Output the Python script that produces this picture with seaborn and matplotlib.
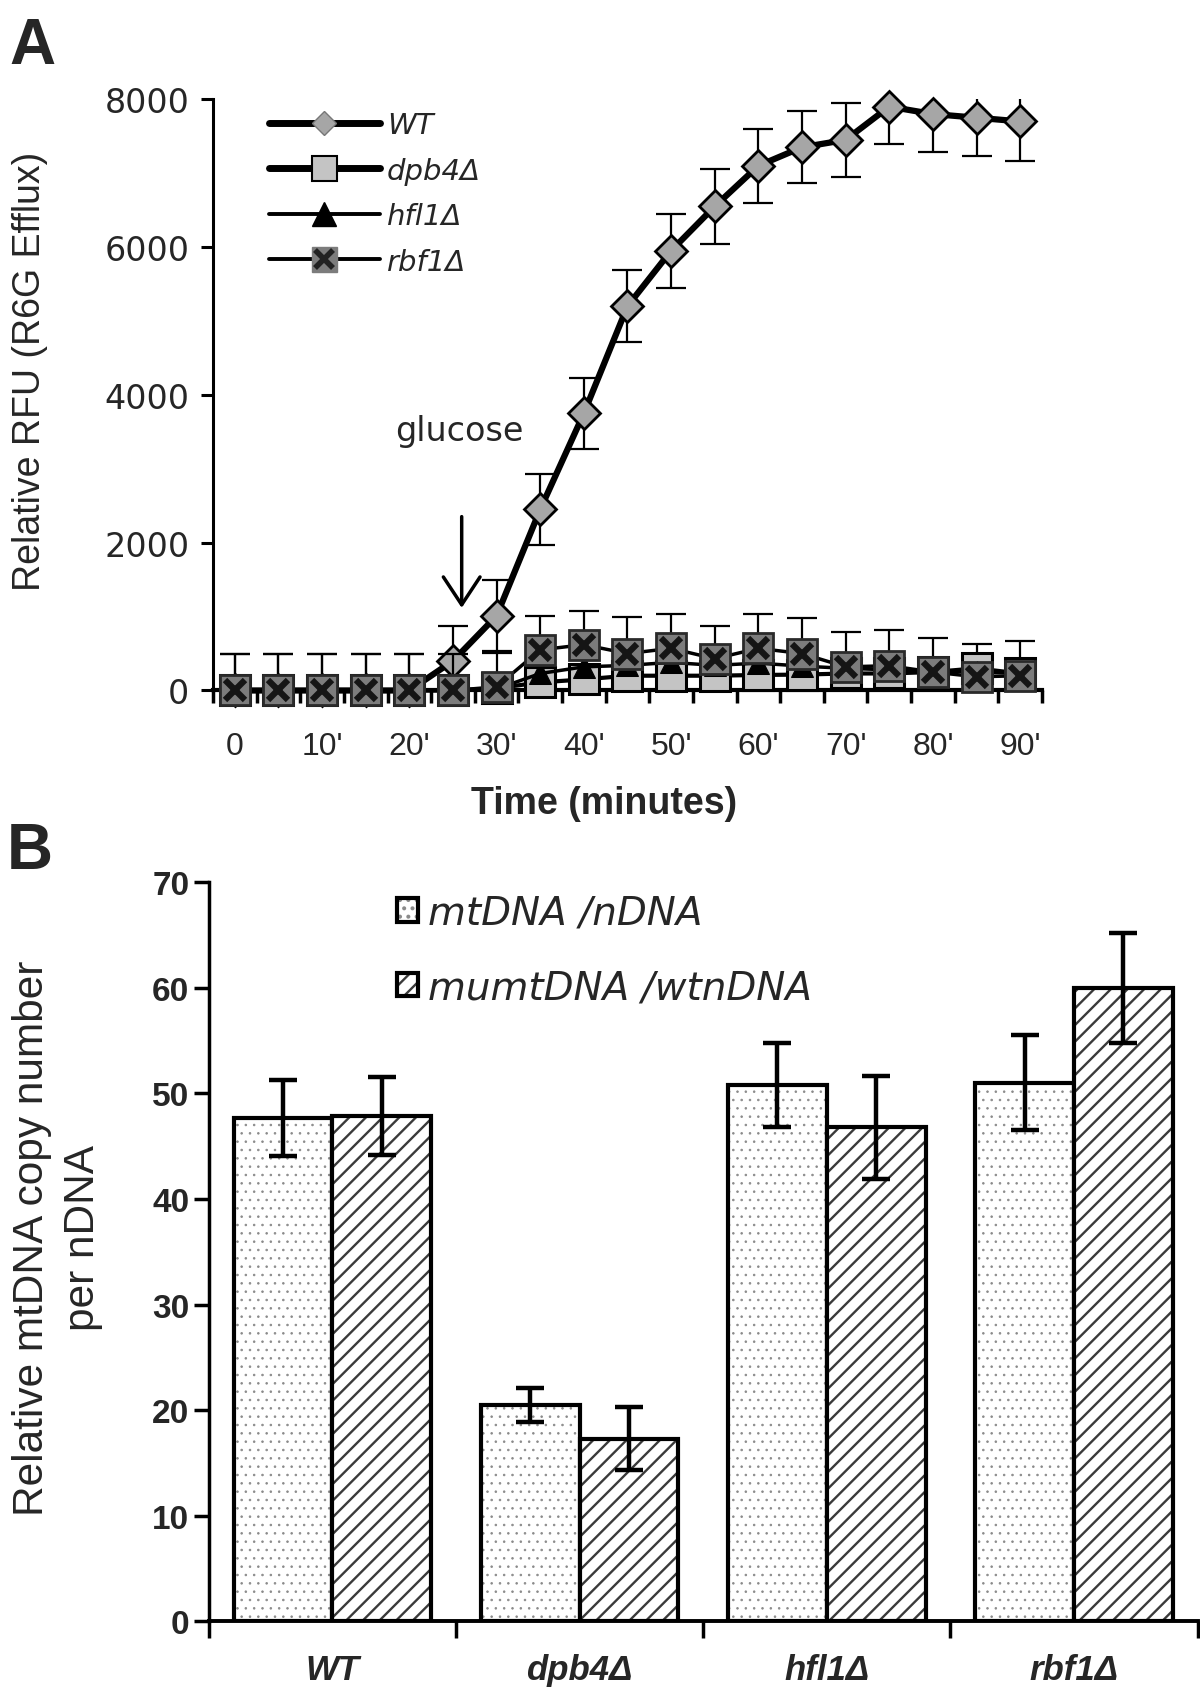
import numpy as np
import pandas as pd
import matplotlib
matplotlib.use("Agg")
import matplotlib.pyplot as plt
import matplotlib.colors as mcolors
from matplotlib.lines import Line2D
import seaborn as sns

# ---------------- data: panel A ----------------
time_min = [0, 5, 10, 15, 20, 25, 30, 35, 40, 45, 50, 55, 60, 65, 70, 75, 80, 85, 90]
time_tick_vals = [0, 10, 20, 30, 40, 50, 60, 70, 80, 90]
time_tick_labels = ["0", "10'", "20'", "30'", "40'", "50'", "60'", "70'", "80'", "90'"]
wt = [0, 0, 0, 0, 0, 400, 1010, 2450, 3750, 5200, 5950, 6550, 7100, 7350, 7450, 7900, 7800, 7750, 7700]
wt_err = [500, 500, 500, 500, 500, 470, 480, 475, 480, 490, 500, 505, 500, 490, 500, 500, 520, 515, 530]
dpb4 = [0, 0, 0, 0, 0, 0, 30, 110, 150, 200, 200, 200, 210, 215, 230, 230, 250, 300, 230]
hfl1 = [0, 0, 0, 0, 0, 0, 20, 230, 320, 340, 380, 340, 370, 330, 300, 280, 260, 250, 230]
rbf1 = [0, 0, 0, 0, 0, 0, 50, 550, 620, 500, 570, 430, 570, 500, 320, 335, 250, 185, 200]
rbf1_err = [500, 500, 500, 500, 500, 500, 460, 455, 460, 500, 460, 440, 460, 475, 475, 485, 460, 450, 470]
series_names = ["WT", "dpb4Δ", "hfl1Δ", "rbf1Δ"]
arrow_x = 26.0
arrow_from = 2390
arrow_to = 1080
glucose_xy = (25.7, 3520)

# ---------------- data: panel B ----------------
strains = ["WT", "dpb4Δ", "hfl1Δ", "rbf1Δ"]
measures = ["mtDNA /nDNA", "mumtDNA /wtnDNA"]
mt_ndna = [47.7, 20.5, 50.8, 51.0]
mt_ndna_err = [3.6, 1.6, 4.0, 4.5]
mumt_wtn = [47.9, 17.3, 46.8, 60.0]
mumt_wtn_err = [3.7, 3.0, 4.9, 5.2]

# ---------------- style ----------------
sns.set_theme(style="ticks")
plt.rcParams["font.family"] = ["DejaVu Sans"]
plt.rcParams["hatch.linewidth"] = 1.7
ARIAL = ["Liberation Sans", "DejaVu Sans"]

fig = plt.figure(figsize=(12, 16.99), dpi=100)
axA = fig.add_axes([0.1775, 0.593, 0.6908, 0.348])
axB = fig.add_axes([0.174, 0.0453, 0.824, 0.4347])

# ================= Panel A =================
t = np.array(time_min)
series_lines = []

axA.errorbar(t, wt, yerr=wt_err, fmt="none", ecolor="black", elinewidth=1.6,
             capsize=11, capthick=1.6, zorder=3)
sns.lineplot(x=t, y=wt, ax=axA, color="black", linewidth=4.5, marker="D",
             markersize=16, markerfacecolor="#a6a6a6", markeredgecolor="black",
             markeredgewidth=2.0, zorder=4)
series_lines.append(axA.lines[-1])
sns.lineplot(x=t, y=dpb4, ax=axA, color="black", linewidth=3.0, marker="s",
             markersize=22, markerfacecolor="#c4c4c4", markeredgecolor="black",
             markeredgewidth=2.2, zorder=5)
series_lines.append(axA.lines[-1])
sns.lineplot(x=t, y=hfl1, ax=axA, color="black", linewidth=2.5, marker="^",
             markersize=16, markerfacecolor="black", markeredgecolor="black", zorder=5)
series_lines.append(axA.lines[-1])
axA.errorbar(t, rbf1, yerr=rbf1_err, fmt="none", ecolor="black", elinewidth=1.6,
             capsize=11, capthick=1.6, zorder=4)
sns.lineplot(x=t, y=rbf1, ax=axA, color="black", linewidth=2.5, marker="s",
             markersize=22, markerfacecolor="#7c7c7c", markeredgecolor="#2a2a2a",
             markeredgewidth=2.0, zorder=6)
series_lines.append(axA.lines[-1])
axA.plot(t, rbf1, linestyle="none", marker="x", markersize=15, markeredgewidth=4.5,
         color="#151515", zorder=7)
series_lines.append(axA.lines[-1])
for ln in series_lines:
    ln.set_clip_on(False)

axA.set_xlim(-2.5, 92.5)
axA.set_ylim(0, 8000)
axA.set_yticks([0, 2000, 4000, 6000, 8000])
axA.set_xticks(time_tick_vals)
axA.set_xticklabels(time_tick_labels, fontsize=23, family=ARIAL)
axA.set_xticks(np.arange(-2.5, 93, 5), minor=True)
axA.tick_params(axis="x", which="major", length=0, pad=29)
axA.tick_params(axis="x", which="minor", length=9, width=2.5, direction="out", color="black")
axA.tick_params(axis="y", length=9, width=2.2, pad=8, labelsize=24, color="black")
for lab in axA.get_yticklabels():
    lab.set_family("DejaVu Sans")
sns.despine(ax=axA)
axA.spines["left"].set_linewidth(2.2)
axA.spines["bottom"].set_linewidth(3.0)
axA.spines["left"].set_color("black")
axA.spines["bottom"].set_color("black")

axA.set_ylabel("Relative RFU (R6G Efflux)", fontsize=27, family=ARIAL)
axA.yaxis.label.set_va("center")
axA.yaxis.set_label_coords(-0.221, 0.542)
axA.set_xlabel("Time (minutes)", fontsize=27, fontweight="bold", family=ARIAL)
axA.xaxis.label.set_va("center")
axA.xaxis.set_label_coords(0.4717, -0.19)

axA.annotate("", xy=(arrow_x, arrow_to), xytext=(arrow_x, arrow_from),
             arrowprops=dict(arrowstyle="->,head_length=0.5,head_width=0.33",
                             lw=2.5, color="black", mutation_scale=40), zorder=8)
axA.text(glucose_xy[0], glucose_xy[1], "glucose", fontsize=24, ha="center",
         va="center", family="DejaVu Sans")

hA = [
    Line2D([], [], color="black", lw=5, marker="D", ms=12, mfc="#a6a6a6", mec="#777777", mew=1),
    Line2D([], [], color="black", lw=5, marker="s", ms=18, mfc="#c4c4c4", mec="black", mew=1.5),
    Line2D([], [], color="black", lw=2.8, marker="^", ms=17, mfc="black", mec="black"),
    (Line2D([], [], color="black", lw=2.8, marker="s", ms=18, mfc="#7c7c7c", mec="#7c7c7c"),
     Line2D([], [], ls="none", marker="x", ms=13, mew=4, color="#222222")),
]
legA = axA.legend(hA, series_names, loc="upper left", bbox_to_anchor=(0.0675, 0.98),
                  frameon=False, numpoints=1, handlelength=3.8, handletextpad=0.25,
                  labelspacing=0.6, borderpad=0, borderaxespad=0,
                  prop={"family": "DejaVu Sans", "style": "italic", "size": 21})

# ================= Panel B =================
dfB = pd.DataFrame({
    "strain": strains * 2,
    "measure": [measures[0]] * 4 + [measures[1]] * 4,
    "value": mt_ndna + mumt_wtn,
})
sns.barplot(data=dfB, x="strain", y="value", hue="measure", order=strains,
            hue_order=measures, palette=["white", "white"], saturation=1,
            edgecolor="black", linewidth=3.0, errorbar=None, width=0.8,
            legend=False, ax=axB)

hatches = ["..", "//"]
hatch_cols = ["#8a8a8a", "#3a3a3a"]
hatch_lws = [0.6, 1.7]
errs = [mt_ndna_err, mumt_wtn_err]
for cont, hatch, hc, hlw, err in zip(axB.containers, hatches, hatch_cols, hatch_lws, errs):
    xs, ys = [], []
    for bar in cont:
        bar.set_hatch(hatch)
        bar._hatch_color = mcolors.to_rgba(hc)
        if hasattr(bar, "set_hatch_linewidth"):
            bar.set_hatch_linewidth(hlw)
        bar.set_zorder(3)
        xs.append(bar.get_x() + bar.get_width() / 2)
        ys.append(bar.get_height())
    axB.errorbar(xs, ys, yerr=err, fmt="none", ecolor="black", elinewidth=3.2,
                 capsize=10, capthick=3.2, zorder=5)

axB.set_xlim(-0.5, 3.5)
axB.set_ylim(0, 70)
axB.set_yticks(range(0, 71, 10))
axB.set_xlabel("")
axB.set_ylabel("Relative mtDNA copy number\nper nDNA", fontsize=30.5, family=ARIAL,
               linespacing=1.35)
axB.yaxis.label.set_va("center")
axB.yaxis.set_label_coords(-0.153, 0.52)
axB.set_xticks(range(len(strains)))
axB.set_xticklabels(strains, fontsize=25, fontweight="bold", style="italic", family=ARIAL)
axB.set_xticks(np.arange(-0.5, 3.6, 1.0), minor=True)
axB.tick_params(axis="x", which="major", length=0, pad=23)
axB.tick_params(axis="x", which="minor", length=12, width=2.5, direction="out", color="black")
axB.tick_params(axis="y", length=11, width=2.5, pad=3, color="black")
for lab in axB.get_yticklabels():
    lab.set_family(ARIAL)
    lab.set_fontsize(24)
    lab.set_fontweight("bold")
sns.despine(ax=axB)
axB.spines["left"].set_linewidth(2.5)
axB.spines["bottom"].set_linewidth(2.8)
axB.spines["left"].set_color("black")
axB.spines["bottom"].set_color("black")

legB = axB.legend(handles=[axB.containers[0][0], axB.containers[1][0]], labels=measures,
                  loc="upper left", bbox_to_anchor=(0.19, 0.985), frameon=False,
                  handlelength=0.55, handleheight=0.55, handletextpad=0.25,
                  labelspacing=0.95, borderpad=0, borderaxespad=0,
                  prop={"family": "DejaVu Sans", "style": "italic", "size": 28})

# panel letters
fig.text(0.008, 1 - 17 / 1699, "A", fontsize=46, fontweight="bold", family=ARIAL,
         ha="left", va="top")
fig.text(0.006, 1 - 822 / 1699, "B", fontsize=46, fontweight="bold", family=ARIAL,
         ha="left", va="top")

fig.savefig("out.png", dpi=100)
